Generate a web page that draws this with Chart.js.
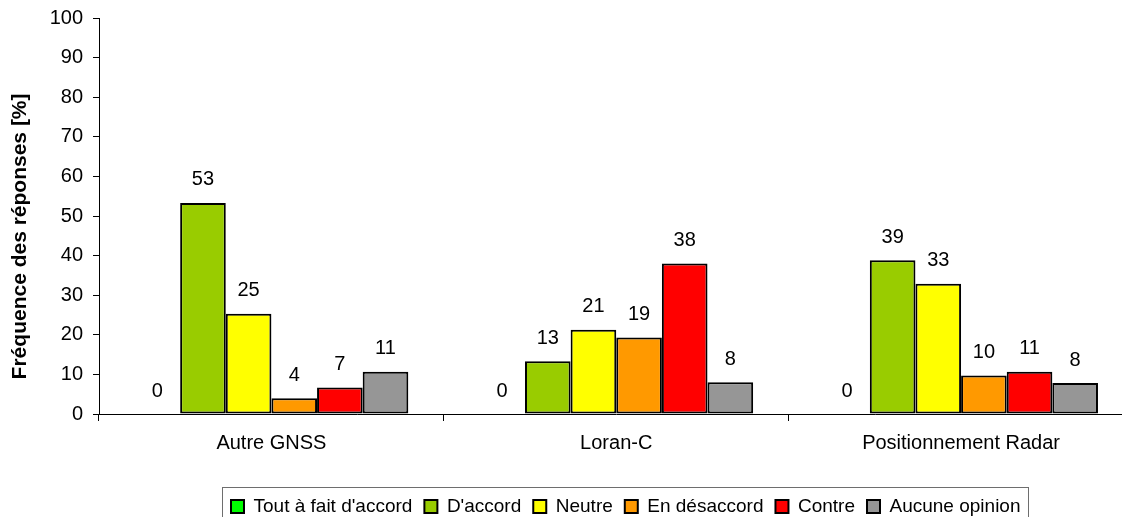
<!DOCTYPE html>
<html>
<head>
<meta charset="utf-8">
<script src="https://cdn.jsdelivr.net/npm/chart.js@4/dist/chart.umd.min.js"></script>
<style>
  body { margin: 0; overflow: hidden; background: #fff; }
  #wrap { width: 1140px; height: 526px; }
</style>
</head>
<body>
<div id="wrap"><canvas id="chart"></canvas></div>
<script>
// categories and series
const categories = ['Autre GNSS', 'Loran-C', 'Positionnement Radar'];
const seriesNames = ["Tout à fait d'accord", "D'accord", 'Neutre', 'En désaccord', 'Contre', 'Aucune opinion'];
const seriesColors = ['#00FF00', '#99CC00', '#FFFF00', '#FF9900', '#FF0000', '#969696'];

const toutAFait = [0, 0, 0];
const dAccord   = [53.3, 13.3, 38.8];
const neutre    = [25.3, 21.3, 32.9];
const desaccord = [4.0, 19.3, 9.7];
const contre    = [6.7, 38.0, 10.7];
const aucune    = [10.7, 8.0, 7.8];

const yMin = 0, yMax = 100, yStep = 10;
const yTitle = 'Fréquence des réponses [%]';

const seriesValues = [toutAFait, dAccord, neutre, desaccord, contre, aucune];
const FONT = 'Arial, "Liberation Sans", sans-serif';

// labels above bars + frame around the legend
const extras = {
  id: 'extras',
  afterUpdate(chart) {
    const lg = chart.legend;
    if (!lg || !lg.legendHitBoxes || !lg.legendHitBoxes.length) return;
    const dx = 231 - lg.legendHitBoxes[0].left;
    lg.left += dx;
    lg.right += dx;
    lg.legendHitBoxes.forEach(b => { b.left += dx; });
  },
  afterDatasetsDraw(chart) {
    const ctx = chart.ctx;
    ctx.save();
    ctx.font = '20px ' + FONT;
    ctx.fillStyle = '#000';
    ctx.textAlign = 'center';
    ctx.textBaseline = 'middle';
    chart.data.datasets.forEach((ds, i) => {
      chart.getDatasetMeta(i).data.forEach((bar, j) => {
        ctx.fillText(String(Math.round(ds.data[j])), bar.x, bar.y - 23);
      });
    });
    ctx.restore();
  },
  afterDraw(chart) {
    const lg = chart.legend;
    const hb = lg.legendHitBoxes;
    if (!hb.length) return;
    const first = hb[0], last = hb[hb.length - 1];
    const cy = first.top + first.height / 2;
    const ctx = chart.ctx;
    ctx.save();
    ctx.strokeStyle = '#6e6e6e';
    ctx.lineWidth = 1;
    const x0 = Math.round(first.left - 9) + 0.5;
    const x1 = Math.round(last.left + last.width + 8) + 0.5;
    const y0 = Math.round(cy - 20) + 0.5;
    ctx.strokeRect(x0, y0, x1 - x0, chart.height - y0 + 10);
    ctx.restore();
  }
};

const datasets = seriesNames.map((name, i) => ({
  label: name,
  data: seriesValues[i],
  backgroundColor: seriesColors[i],
  borderColor: '#000',
  borderWidth: 2,
  borderSkipped: false,
  barPercentage: 1,
  categoryPercentage: 0.794
}));

new Chart(document.getElementById('chart'), {
  type: 'bar',
  data: { labels: categories, datasets },
  options: {
    responsive: true,
    maintainAspectRatio: false,
    animation: false,
    devicePixelRatio: 1,
    layout: { padding: { top: 18, right: 6.5, left: 0, bottom: 0 } },
    plugins: {
      tooltip: { enabled: false },
      legend: {
        position: 'bottom',
        labels: {
          color: '#000',
          font: { family: FONT, size: 19 },
          boxWidth: 13,
          boxHeight: 13,
          padding: 12
        }
      }
    },
    scales: {
      x: {
        afterFit: s => { s.height = 71; },
        border: { display: true, color: '#000', width: 1 },
        grid: { display: true, offset: true, drawOnChartArea: false, drawTicks: true, tickLength: 7, color: '#000' },
        ticks: { color: '#000', font: { family: FONT, size: 20 }, padding: 10, maxRotation: 0, autoSkip: false }
      },
      y: {
        min: yMin,
        max: yMax,
        afterFit: s => { s.width = 99; s.paddingTop = 0; s.paddingBottom = 0; },
        border: { display: true, color: '#000', width: 1 },
        grid: { display: true, drawOnChartArea: false, drawTicks: true, tickLength: 6, color: '#000' },
        ticks: { stepSize: yStep, color: '#000', font: { family: FONT, size: 20 }, padding: 10 },
        title: {
          display: true,
          text: yTitle + '       ',
          color: '#000',
          font: { family: FONT, size: 21, weight: 'bold' },
          padding: { top: 8, bottom: 0 }
        }
      }
    }
  },
  plugins: [extras]
});
</script>
</body>
</html>
